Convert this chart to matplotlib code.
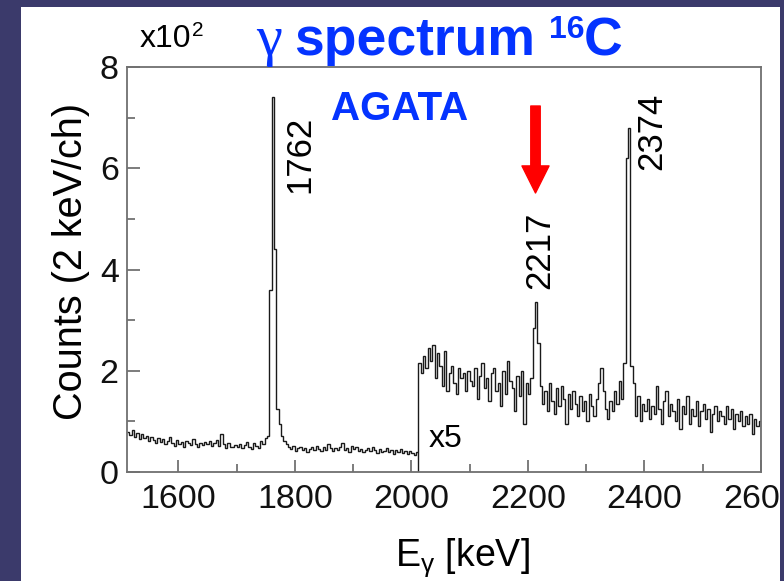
import numpy as np
import matplotlib.pyplot as plt
from matplotlib.patches import Rectangle, FancyArrowPatch

plt.rcParams['font.family'] = ['Liberation Sans', 'DejaVu Sans']
plt.rcParams['mathtext.fontset'] = 'custom'
plt.rcParams['mathtext.rm'] = 'Liberation Sans'
plt.rcParams['mathtext.it'] = 'Liberation Sans:italic'

# gamma spectrum of 16C, 4 keV bins, counts in units of 10^2
bin_width = 4
low_start = 1512    # unscaled part
high_start = 2012   # part scaled x5

low_counts = [
    0.80, 0.74, 0.82, 0.70, 0.78, 0.66, 0.75, 0.68, 0.72, 0.62,
    0.70, 0.64, 0.58, 0.68, 0.60, 0.66, 0.55, 0.62, 0.70, 0.58,
    0.52, 0.64, 0.56, 0.60, 0.50, 0.62, 0.58, 0.54, 0.66, 0.56,
    0.50, 0.57, 0.53, 0.60, 0.55, 0.62, 0.52, 0.58, 0.64, 0.52,
    0.76, 0.55, 0.48, 0.58, 0.50, 0.49, 0.53, 0.50, 0.56, 0.47,
    0.54, 0.60, 0.50, 0.45, 0.58, 0.52, 0.48, 0.62, 0.56, 0.68,
    0.72, 3.60, 7.40, 4.40, 1.25, 0.95, 0.72, 0.62, 0.55, 0.50,
    0.46, 0.52, 0.42, 0.48, 0.50, 0.44, 0.47, 0.40, 0.45, 0.49,
    0.43, 0.52, 0.46, 0.41, 0.50, 0.44, 0.55, 0.48, 0.42, 0.47,
    0.44, 0.50, 0.58, 0.43, 0.47, 0.40, 0.52, 0.45, 0.49, 0.42,
    0.46, 0.39, 0.44, 0.48, 0.41, 0.50, 0.43, 0.38, 0.45, 0.40,
    0.42, 0.47, 0.39, 0.44, 0.36, 0.43, 0.40, 0.46, 0.37, 0.41,
    0.35, 0.42, 0.38, 0.33, 0.40,
]

high_counts_x5 = [
    2.15, 1.95, 2.30, 2.05, 2.45, 2.20, 2.50, 1.85, 2.35, 2.10,
    1.70, 2.40, 1.60, 1.95, 2.10, 1.75, 1.55, 2.05, 1.85, 1.95,
    1.60, 2.00, 1.80, 1.70, 2.05, 1.45, 1.90, 2.15, 1.65, 1.85,
    1.40, 1.95, 2.05, 1.60, 1.75, 1.30, 2.00, 1.55, 2.20, 1.80,
    1.65, 1.20, 1.90, 1.50, 2.00, 0.95, 1.75, 1.55, 1.85, 2.85,
    3.35, 2.55, 1.70, 1.35, 1.60, 1.20, 1.75, 1.40, 1.15, 1.65,
    1.30, 1.70, 1.45, 0.95, 1.55, 1.25, 1.60, 1.35, 1.10, 1.50,
    1.20, 1.40, 1.00, 1.55, 1.30, 1.10, 1.45, 1.75, 2.05, 1.60,
    1.25, 1.05, 1.40, 1.20, 1.60, 1.35, 1.80, 1.45, 2.15, 6.20,
    6.80, 2.10, 1.75, 1.10, 1.50, 1.00, 1.35, 1.20, 1.45, 1.05,
    1.30, 1.15, 1.70, 1.25, 0.95, 1.40, 1.60, 1.10, 1.35, 1.20,
    1.00, 1.45, 0.85, 1.30, 1.15, 1.50, 0.95, 1.25, 1.10, 1.40,
    0.90, 1.20, 1.35, 1.05, 1.25, 0.80, 1.15, 1.30, 1.00, 1.20,
    1.10, 0.95, 1.30, 1.05, 1.25, 0.85, 1.15, 1.00, 1.20, 0.90,
    1.10, 0.95, 1.15, 0.75, 1.05, 0.90, 1.00,
]

peak_labels = ['1762', '2217', '2374']
x_ticks = [1600, 1800, 2000, 2200, 2400, 2600]
y_ticks = [0, 2, 4, 6, 8]

W, H = 784, 581
def fx(px):
    return px / W
def fy(py):
    return 1 - py / H

fig = plt.figure(figsize=(W / 100, H / 100), dpi=100)
fig.patch.set_facecolor('#3b3a6b')
# white slide panel
fig.patches.append(Rectangle((fx(21), 0), fx(780) - fx(21), fy(7), transform=fig.transFigure,
                             facecolor='white', edgecolor='none', zorder=-5))
# dark strip on the right, covers the end of the last tick label
fig.patches.append(Rectangle((fx(780), 0), 1 - fx(780), 1, transform=fig.transFigure,
                             facecolor='#3b3a6b', edgecolor='none', zorder=20))

ax = fig.add_axes([fx(127), fy(472), fx(761) - fx(127), fy(67) - fy(472)])
ax.patch.set_alpha(0)

low_edges = low_start + bin_width * np.arange(len(low_counts) + 1)
high_edges = high_start + bin_width * np.arange(len(high_counts_x5) + 1)
ax.stairs(low_counts, low_edges, baseline=None, color='#1a1a1a', lw=1.0)
ax.stairs(high_counts_x5, high_edges, baseline=0, color='#1a1a1a', lw=1.0)

ax.set_xlim(1512, 2600)
ax.set_ylim(0, 8)
ax.set_xticks(x_ticks)
ax.set_xticklabels([str(t) for t in x_ticks])
ax.set_xticks([1700, 1900, 2100, 2300, 2500], minor=True)
ax.set_yticks(y_ticks)
ax.set_yticklabels([str(t) for t in y_ticks])
ax.set_yticks([1, 3, 5, 7], minor=True)

ax.tick_params(which='both', direction='in', color='#666666', width=1.2,
               top=False, right=False, labelsize=24.5, labelcolor='#111111')
ax.tick_params(which='major', length=9)
ax.tick_params(which='minor', length=6)
ax.tick_params(axis='x', pad=9)
ax.tick_params(axis='y', pad=6)
for sp in ax.spines.values():
    sp.set_color('#707070')
    sp.set_linewidth(1.3)

# peak labels
ax.text(1808, 5.51, peak_labels[0], rotation=90, ha='center', va='bottom', fontsize=25)
ax.text(2220, 3.62, peak_labels[1], rotation=90, ha='center', va='bottom', fontsize=25)
ax.text(2412, 5.97, peak_labels[2], rotation=90, ha='center', va='bottom', fontsize=25)
ax.text(2030, 0.49, 'x5', ha='left', va='baseline', fontsize=23)

# axis labels
fig.text(fx(71), fy(261), 'Counts (2 keV/ch)', rotation=90, ha='center', va='center', fontsize=28.5)
fig.text(fx(462), fy(566), r'E$_{\mathrm{\gamma}}$ [keV]', ha='center', va='baseline', fontsize=27)
fig.text(fx(140), fy(47), 'x10', ha='left', va='baseline', fontsize=23)
fig.text(fx(192), fy(36), '2', ha='left', va='baseline', fontsize=15)

# title
blue = '#0433ff'
fig.text(fx(256), fy(55), 'γ', ha='left', va='baseline', fontsize=42, color=blue, family='Liberation Serif')
fig.text(fx(294), fy(55), 'spectrum', ha='left', va='baseline', fontsize=38.5, color=blue,
         fontweight='bold')
fig.text(fx(549), fy(38), '16', ha='left', va='baseline', fontsize=23, color=blue,
         fontweight='bold')
fig.text(fx(584), fy(56), 'C', ha='left', va='baseline', fontsize=38.5, color=blue,
         fontweight='bold')
fig.text(fx(331), fy(120), 'AGATA', ha='left', va='baseline', fontsize=29, color=blue,
         fontweight='bold')

# red arrow pointing at 2217
arrow = FancyArrowPatch((fx(535.5), fy(106)), (fx(535.5), fy(193)), transform=fig.transFigure,
                        arrowstyle='simple,head_length=19.5,head_width=19.5,tail_width=6.8',
                        mutation_scale=1, shrinkA=0, shrinkB=0, color='#ff0000', zorder=10)
fig.patches.append(arrow)

fig.savefig('out.png', dpi=100, facecolor=fig.get_facecolor())
